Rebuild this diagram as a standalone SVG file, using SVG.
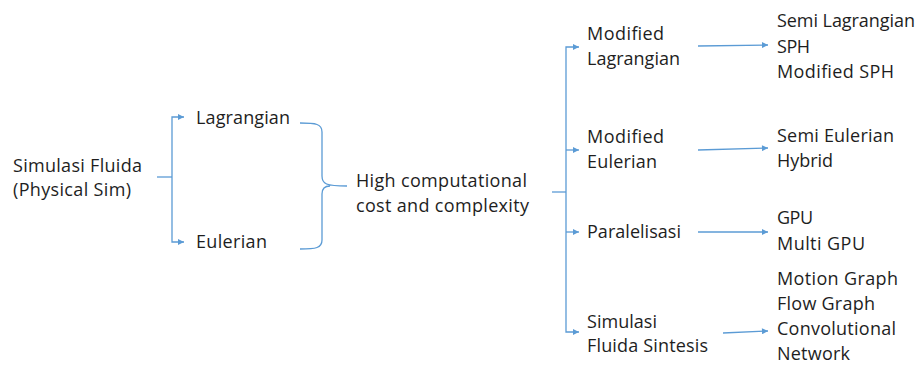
<svg xmlns="http://www.w3.org/2000/svg" width="918" height="365" viewBox="0 0 918 365">
<style>
text{font-family:"Open Sans","Noto Sans","Liberation Sans",sans-serif;font-size:18px;fill:#1e1e1e}
.ln{fill:none;stroke:#5b9bd5;stroke-width:1.3}
.ar{fill:none;stroke:#5b9bd5;stroke-width:1.3;marker-end:url(#ah)}
</style>
<defs>
<marker id="ah" viewBox="0 0 10 10" refX="10" refY="5" markerUnits="userSpaceOnUse" markerWidth="7" markerHeight="6" orient="auto">
<path d="M0,0 L10,5 L0,10 Z" fill="#5b9bd5"/>
</marker>
</defs>
<g id="connectors">
<path class="ln" d="M157,177 H172"/>
<path class="ar" d="M172,177 V117 H184"/>
<path class="ar" d="M172,177 V242 H184"/>
<path class="ln" d="M300,123 C316,123 322,124 322,132 V176 C322,184 326,186 347,186 M322,194 C322,187 326,186 330,186 M322,194 V240 C322,248 316,249 300,249"/>
<path class="ln" d="M552,192 H566"/>
<path class="ar" d="M566,192 V47 H579"/>
<path class="ar" d="M566,150 H579"/>
<path class="ar" d="M566,232 H579"/>
<path class="ar" d="M566,192 V332 H579"/>
<path class="ar" d="M698,46 L768,45"/>
<path class="ar" d="M698,150 L768,148"/>
<path class="ar" d="M698,232 L768,232"/>
<path class="ar" d="M723,333 L768,331"/>
</g>
<g id="root"><text x="13" y="172" textLength="129">Simulasi Fluida</text><text x="13" y="196" textLength="118">(Physical Sim)</text></g>
<g id="lagrangian"><text x="196" y="124" textLength="94">Lagrangian</text></g>
<g id="eulerian"><text x="196" y="248" textLength="71">Eulerian</text></g>
<g id="cost"><text x="356" y="187" textLength="171">High computational</text><text x="356" y="212" textLength="173">cost and complexity</text></g>
<g id="mod-lag"><text x="587" y="40" textLength="77">Modified</text><text x="587" y="65" textLength="93">Lagrangian</text></g>
<g id="mod-eul"><text x="587" y="143" textLength="77">Modified</text><text x="587" y="168" textLength="70">Eulerian</text></g>
<g id="paralel"><text x="587" y="238" textLength="94">Paralelisasi</text></g>
<g id="sintesis"><text x="587" y="328" textLength="70">Simulasi</text><text x="587" y="352" textLength="121">Fluida Sintesis</text></g>
<g id="lag-methods"><text x="777" y="27" textLength="138">Semi Lagrangian</text><text x="777" y="53" textLength="33">SPH</text><text x="777" y="78" textLength="117">Modified SPH</text></g>
<g id="eul-methods"><text x="777" y="142" textLength="117">Semi Eulerian</text><text x="777" y="167" textLength="56">Hybrid</text></g>
<g id="gpu"><text x="777" y="224" textLength="36">GPU</text><text x="777" y="250" textLength="88">Multi GPU</text></g>
<g id="synth-methods"><text x="777" y="285" textLength="121">Motion Graph</text><text x="777" y="310" textLength="98">Flow Graph</text><text x="777" y="335" textLength="119">Convolutional</text><text x="777" y="360" textLength="73">Network</text></g>
</svg>
